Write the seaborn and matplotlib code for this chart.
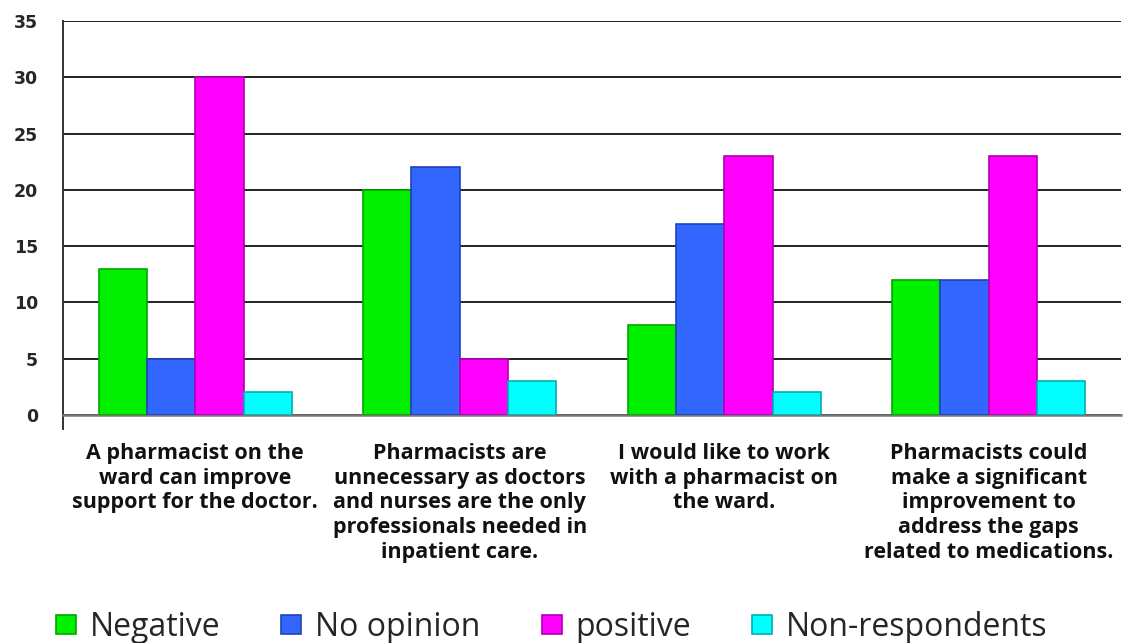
import matplotlib
matplotlib.use("Agg")
import matplotlib.pyplot as plt
from matplotlib.patches import Patch
import seaborn as sns
import pandas as pd
import numpy as np

# Survey statements (x categories)
statements = [
    "A pharmacist on the\nward can improve\nsupport for the doctor.",
    "Pharmacists are\nunnecessary as doctors\nand nurses are the only\nprofessionals needed in\ninpatient care.",
    "I would like to work\nwith a pharmacist on\nthe ward.",
    "Pharmacists could\nmake a significant\nimprovement to\naddress the gaps\nrelated to medications.",
]
responses = ["Negative", "No opinion", "positive", "Non-respondents"]

negative = [13, 20, 8, 12]
no_opinion = [5, 22, 17, 12]
positive = [30, 5, 23, 23]
non_respondents = [2, 3, 2, 3]

colors = ["#00F000", "#3366FF", "#FF00FF", "#00FFFF"]
edge_colors = ["#00A800", "#1F44B8", "#B000B0", "#00B0B0"]

df = pd.DataFrame({
    "statement": np.repeat(statements, 4),
    "response": responses * 4,
    "count": [v for grp in zip(negative, no_opinion, positive, non_respondents) for v in grp],
})

sns.set_style("white")
plt.rcParams["font.family"] = ["Open Sans", "DejaVu Sans"]

fig = plt.figure(figsize=(11.23, 6.43), dpi=100)
ax = fig.add_axes([63 / 1123, 1 - 415 / 643, (1121 - 63) / 1123, (415 - 21) / 643])

sns.barplot(data=df, x="statement", y="count", hue="response",
            hue_order=responses, order=statements, palette=colors,
            width=0.73, saturation=1, ax=ax, legend=False, zorder=3)

# darker outlines on each bar, per series
for cont, ec in zip(ax.containers, edge_colors):
    for bar in cont:
        bar.set_edgecolor(ec)
        bar.set_linewidth(1.2)

ax.set_ylim(0, 35)
ax.set_xlim(-0.5, 3.5)
ax.set_yticks(range(0, 36, 5))
ax.yaxis.grid(True, color="#222222", linewidth=1.4, zorder=0)
ax.set_axisbelow(True)
ax.set_xlabel("")
ax.set_ylabel("")

for s in ["top", "right"]:
    ax.spines[s].set_visible(False)
ax.spines["left"].set_color("#333333")
ax.spines["left"].set_linewidth(1.4)
ax.spines["left"].set_bounds(-1.2, 35)
ax.spines["bottom"].set_color("#777777")
ax.spines["bottom"].set_linewidth(1.8)

ax.tick_params(axis="y", which="major", length=7, width=1.2, color="#333333",
               direction="out", pad=11, labelsize=12.5)
for lbl in ax.get_yticklabels():
    lbl.set_fontfamily("DejaVu Sans")
    lbl.set_fontweight("bold")

# category labels at centres, tick marks at category boundaries
ax.tick_params(axis="x", which="major", length=0, pad=20, labelsize=15.5)
ax.set_xticks(range(len(statements)))
ax.set_xticklabels(statements, fontweight="bold", linespacing=1.24, va="top",
                   color="#111111")
ax.set_xticks([0.5, 1.5, 2.5], minor=True)
ax.tick_params(axis="x", which="minor", length=7, width=1.4, color="#333333",
               direction="out")

handles = [Patch(facecolor=c, edgecolor=e, linewidth=1.2) for c, e in zip(colors, edge_colors)]
fig.legend(handles, responses, loc="center left", bbox_to_anchor=(43 / 1123, 1 - 627 / 643),
           ncol=4, frameon=False, fontsize=23, handlelength=0.63, handleheight=0.53,
           handletextpad=0.44, columnspacing=1.9, borderaxespad=0.0)

fig.savefig("out.png", dpi=100)
